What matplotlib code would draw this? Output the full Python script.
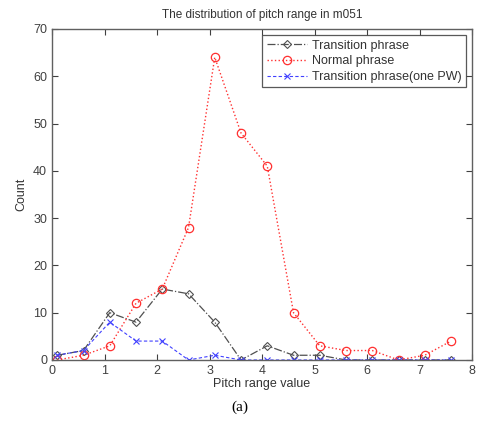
import matplotlib
matplotlib.use("Agg")
import matplotlib.pyplot as plt

# pitch range bins (x) and counts per phrase type
pitch_range = [0.1, 0.6, 1.1, 1.6, 2.1, 2.6, 3.1, 3.6, 4.1, 4.6, 5.1, 5.6, 6.1, 6.6, 7.1, 7.6]
transition = [1, 2, 10, 8, 15, 14, 8, 0, 3, 1, 1, 0, 0, 0, 0, 0]
normal = [0, 1, 3, 12, 15, 28, 64, 48, 41, 10, 3, 2, 2, 0, 1, 4]
transition_one_pw = [1, 2, 8, 4, 4, 0, 1, 0, 0, 0, 0, 0, 0, 0, 0, 0]

xticks = list(range(0, 9))
yticks = list(range(0, 71, 10))

plt.rcParams['font.family'] = ['Liberation Sans', 'DejaVu Sans']

fig = plt.figure(figsize=(4.79, 4.32), dpi=100)
ax = fig.add_axes([0.1086, 0.1667, 0.8768, 0.7662])

ax.plot(pitch_range, transition, linestyle='-.', color='#505050', marker='D',
        markersize=4.5, markerfacecolor='none', markeredgewidth=0.8, linewidth=0.9,
        label='Transition phrase')
ax.plot(pitch_range, normal, linestyle=':', color='#ff3030', marker='o',
        markersize=6, markerfacecolor='none', markeredgewidth=0.9, linewidth=1.0,
        label='Normal phrase')
ax.plot(pitch_range, transition_one_pw, linestyle=(0, (3, 2)), color='#4040ff', marker='x',
        markersize=5, markeredgewidth=0.8, linewidth=0.8,
        label='Transition phrase(one PW)')

ax.set_xlim(0, 8)
ax.set_ylim(0, 70)
ax.set_xticks(xticks)
ax.set_yticks(yticks)
ax.tick_params(direction='in', top=True, right=True, labelsize=9,
               colors='#404040', length=4, width=0.8)
for s in ax.spines.values():
    s.set_color('#606060')
    s.set_linewidth(1.0)

ax.set_title('The distribution of pitch range in m051', fontsize=8.5, color='#333333', pad=8)
ax.set_xlabel('Pitch range value', fontsize=9, color='#333333', labelpad=1)
ax.set_ylabel('Count', fontsize=9, color='#333333', labelpad=4)

leg = ax.legend(loc='upper right', fontsize=9, frameon=True, fancybox=False,
                borderaxespad=0.5, handlelength=3.2, handletextpad=0.4,
                labelspacing=0.3, borderpad=0.35)
leg.get_frame().set_edgecolor('#303030')
leg.get_frame().set_linewidth(0.9)
for t in leg.get_texts():
    t.set_color('#333333')

fig.text(0.5, 0.058, '(a)', ha='center', va='center', fontsize=11,
         family=['Liberation Serif', 'DejaVu Serif'])

fig.savefig('out.png', dpi=100)
